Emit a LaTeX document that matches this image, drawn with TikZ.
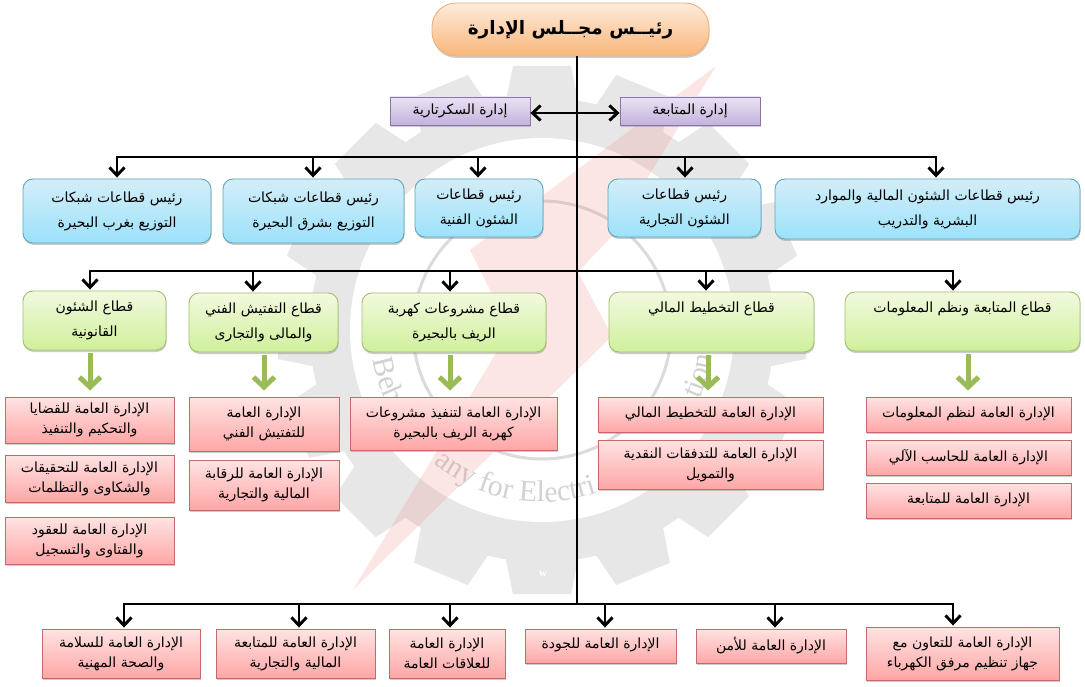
\documentclass[tikz,border=0pt]{standalone}
\usepackage{fontspec}
\usetikzlibrary{arrows.meta,shadows,decorations.text}
\TeXXeTstate=1
\newfontfamily\arabicfont[Script=Arabic]{DejaVu Sans}
\newfontfamily\wmfont{Liberation Serif}
\newcommand{\ar}[1]{\beginR #1\endR}
\newcommand{\arup}[1]{\raisebox{5pt}{\beginR #1\endR}}
\newcommand{\ardn}[2][4pt]{\raisebox{-#1}{\beginR #2\endR}}
\definecolor{gearc}{HTML}{E7E7E7}
\definecolor{ringc}{HTML}{DBDBDB}
\definecolor{wmtext}{HTML}{D2D2D2}
\definecolor{boltc}{HTML}{F08080}
\definecolor{greenarrow}{HTML}{9BBB59}
\definecolor{ttop}{HTML}{FDEBDC}\definecolor{tbot}{HTML}{FAB67A}\definecolor{tbrd}{HTML}{EFB27C}
\definecolor{vtop}{HTML}{EAE3F3}\definecolor{vbot}{HTML}{C3B1DD}\definecolor{vbrd}{HTML}{8B74A8}
\definecolor{btop}{HTML}{D3EDF8}\definecolor{bbot}{HTML}{9CE2FB}\definecolor{bbrd}{HTML}{62A6BA}
\definecolor{gtop}{HTML}{F2F9DF}\definecolor{gbot}{HTML}{CFF09A}\definecolor{gbrd}{HTML}{A5BE73}
\definecolor{ptop}{HTML}{FFE3E3}\definecolor{pbot}{HTML}{FFA6A6}\definecolor{pbrd}{HTML}{C46A6A}
\tikzset{
  basebox/.style={inner sep=0pt,align=center,text=black,line width=0.9pt,
    drop shadow={opacity=.4,shadow xshift=0.6pt,shadow yshift=-2pt}},
  titlebox/.style={basebox,rounded corners=24pt,draw=tbrd,top color=ttop,bottom color=tbot,
    font=\arabicfont\bfseries\fontsize{18.5}{24}\selectfont},
  purplebox/.style={basebox,draw=vbrd,top color=vtop,bottom color=vbot,
    font=\arabicfont\fontsize{14}{18}\selectfont},
  bluebox/.style={basebox,rounded corners=10pt,draw=bbrd,top color=btop,bottom color=bbot,
    font=\arabicfont\fontsize{14}{25}\selectfont},
  greenbox/.style={basebox,rounded corners=10pt,draw=gbrd,top color=gtop,bottom color=gbot,
    font=\arabicfont\fontsize{14}{25}\selectfont},
  pinkbox/.style={basebox,draw=pbrd,top color=ptop,bottom color=pbot,
    font=\arabicfont\fontsize{14}{20}\selectfont},
  conn/.style={line width=2.6pt,black},
  darrow/.style={conn,-{Straight Barb[length=8pt,width=15pt,line width=2.9pt]},shorten >=1pt},
  biarrow/.style={conn,{Straight Barb[length=8pt,width=15pt,line width=2.9pt]}-{Straight Barb[length=8pt,width=15pt,line width=2.9pt]}},
  garrow/.style={line width=5pt,greenarrow,-{Straight Barb[length=10pt,width=21pt,line width=5pt]},shorten <=3pt,shorten >=6pt},
  wmarc/.style={decorate,decoration={text along path,text align=left,
    text={|\wmfont\fontsize{30}{30}\selectfont\color{wmtext}|#1}}},
}
\newcommand{\bx}[7]{%
  \pgfmathsetmacro\bw{#5-#3}\pgfmathsetmacro\bh{#6-#4}%
  \node[#1,minimum width=\bw pt,minimum height=\bh pt] (#2) at ({(#3+#5)/2},{(#4+#6)/2}) {#7};}
\begin{document}
\begin{tikzpicture}[x=1pt,y=-1pt]
\useasboundingbox (0,0) rectangle (1085,687);
\fill[white] (0,0) rectangle (1085,687);
% watermark
\begin{scope}[shift={(542,330)},x=1pt,y=1pt]
  \foreach \a in {0,22.5,...,337.5}{
    \fill[gearc,rotate=\a] (-37,225) -- (-29,264) -- (29,264) -- (37,225) -- cycle;}
  \fill[gearc] (0,0) circle[radius=232];
  \fill[white] (0,0) circle[radius=192];
  \draw[ringc,line width=3pt] (0,0) circle[radius=129];
  \path[wmarc={Beh}] (190:172) arc[start angle=190,end angle=230,radius=172];
  \path[wmarc={any for Electri}] (231:172) arc[start angle=231,end angle=335,radius=172];
  \path[wmarc={tion}] (336:172) arc[start angle=336,end angle=375,radius=172];
  \fill[boltc,opacity=.2] (174,264) -- (70,94) -- (36,58) -- (70,-6) -- (-189,-260) -- (-32,0) -- (-72,80) -- cycle;
\end{scope}
\node[text=white,font=\wmfont\bfseries\fontsize{11}{11}\selectfont] (wm) at (543,574) {w};
% boxes
\bx{titlebox}{top}{432}{3}{709}{56}{\ar{رئيــس مجــلس الإدارة}}
\bx{purplebox}{sec}{390}{97}{530}{125}{\ar{إدارة السكرتارية}}
\bx{purplebox}{fol}{620}{97}{760}{125}{\ar{إدارة المتابعة}}
\bx{bluebox}{ba}{23}{179}{211}{243}{\ar{رئيس قطاعات شبكات}\\\ar{التوزيع بغرب البحيرة}}
\bx{bluebox}{bb}{223}{179}{404}{243}{\ar{رئيس قطاعات شبكات}\\\ar{التوزيع بشرق البحيرة}}
\bx{bluebox}{bc}{415}{179}{543}{237}{\ar{رئيس قطاعات}\\\ar{الشئون الفنية}}
\bx{bluebox}{bd}{608}{179}{761}{237}{\ar{رئيس قطاعات}\\\ar{الشئون التجارية}}
\bx{bluebox}{be}{775}{179}{1080}{239}{\ar{رئيس قطاعات الشئون المالية والموارد}\\\ar{البشرية والتدريب}}
\bx{greenbox}{ga}{23}{291}{166}{350}{\ardn{قطاع الشئون}\\\ardn{القانونية}}
\bx{greenbox}{gb}{189}{293}{338}{352}{\ardn{قطاع التفتيش الفني}\\\ardn{والمالى والتجارى}}
\bx{greenbox}{gc}{362}{293}{546}{352}{\ardn{قطاع مشروعات كهربة}\\\ardn{الريف بالبحيرة}}
\bx{greenbox}{gd}{609}{292}{814}{352}{\ardn[6pt]{قطاع التخطيط المالي}\\\strut}
\bx{greenbox}{ge}{845}{292}{1080}{351}{\ardn[6pt]{قطاع المتابعة ونظم المعلومات}\\\strut}
\bx{pinkbox}{pa}{5}{397}{174}{443}{\ardn[2pt]{الإدارة العامة للقضايا}\\\ardn[2pt]{والتحكيم والتنفيذ}}
\bx{pinkbox}{pb}{5}{455}{174}{502}{\ardn[2pt]{الإدارة العامة للتحقيقات}\\\ardn[2pt]{والشكاوى والتظلمات}}
\bx{pinkbox}{pc}{5}{517}{174}{564}{\ar{الإدارة العامة للعقود}\\\ar{والفتاوى والتسجيل}}
\bx{pinkbox}{pd}{189}{397}{339}{451}{\ar{الإدارة العامة}\\\ar{للتفتيش الفني}}
\bx{pinkbox}{pe}{189}{460}{339}{510}{\ar{الإدارة العامة للرقابة}\\\ar{المالية والتجارية}}
\bx{pinkbox}{pf}{350}{397}{557}{450}{\ar{الإدارة العامة لتنفيذ مشروعات}\\\ar{كهربة الريف بالبحيرة}}
\bx{pinkbox}{pg}{598}{397}{823}{432}{\arup{الإدارة العامة للتخطيط المالي}}
\bx{pinkbox}{ph}{598}{440}{823}{489}{\ar{الإدارة العامة للتدفقات النقدية}\\\ar{والتمويل}}
\bx{pinkbox}{pi}{866}{397}{1071}{432}{\arup{الإدارة العامة لنظم المعلومات}}
\bx{pinkbox}{pj}{866}{440}{1071}{475}{\arup{الإدارة العامة للحاسب الآلي}}
\bx{pinkbox}{pk}{866}{483}{1071}{518}{\arup{الإدارة العامة للمتابعة}}
\bx{pinkbox}{fa}{42}{629}{200}{678}{\ar{الإدارة العامة للسلامة}\\\ar{والصحة المهنية}}
\bx{pinkbox}{fb}{216}{629}{375}{678}{\ar{الإدارة العامة للمتابعة}\\\ar{المالية والتجارية}}
\bx{pinkbox}{fc}{389}{629}{505}{678}{\ar{الإدارة العامة}\\\ar{للعلاقات العامة}}
\bx{pinkbox}{fd}{525}{629}{676}{663}{\arup{الإدارة العامة للجودة}}
\bx{pinkbox}{fe}{696}{629}{846}{663}{\arup{الإدارة العامة للأمن}}
\bx{pinkbox}{ff}{866}{627}{1059}{680}{\ar{الإدارة العامة للتعاون مع}\\\ar{جهاز تنظيم مرفق الكهرباء}}
% trunk and buses
\coordinate (trunkend) at (577,604);
\draw[conn] (trunkend |- top.south) -- (trunkend);
\draw[biarrow] ([yshift=-2pt]sec.east) -- ([yshift=-2pt]fol.west);
\draw[conn] (117,157) -- (936,157);
\draw[conn] (90,271) -- (953,271);
\draw[conn] (124,604) -- (953,604);
\foreach \x/\n in {117/ba,313/bb,478/bc,685/bd,936/be}{
  \coordinate (t) at (\x,156);
  \draw[darrow] (t) -- (t |- \n.north);}
\foreach \x/\n in {90/ga,253/gb,450/gc,706/gd,953/ge}{
  \coordinate (t) at (\x,270);
  \draw[darrow] (t) -- (t |- \n.north);}
\foreach \x/\n in {124/fa,299/fb,450/fc,605/fd,775/fe,953/ff}{
  \coordinate (t) at (\x,603);
  \draw[darrow] (t) -- (t |- \n.north);}
% green arrows
\foreach \x/\n/\m in {90/ga/pa,264/gb/pd,450/gc/pf,708/gd/pg,968/ge/pi}{
  \coordinate (t) at (\x,0);
  \draw[garrow] (t |- \n.south) -- (t |- \m.north);}
\end{tikzpicture}
\end{document}
